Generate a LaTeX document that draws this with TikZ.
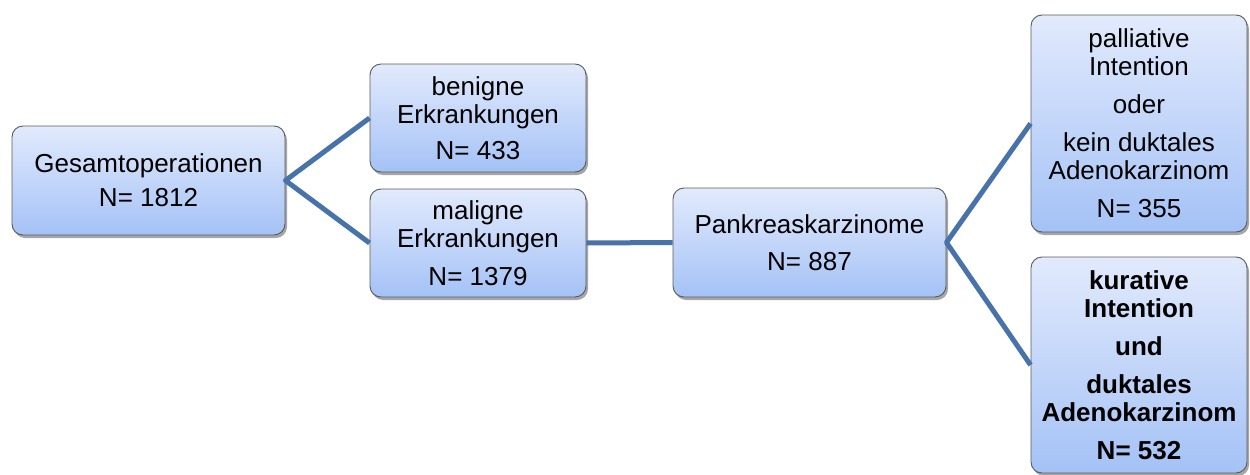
\documentclass[tikz,border=0pt]{standalone}
\usepackage{fontspec}
\setmainfont{Liberation Sans}
\usetikzlibrary{shadows}
\definecolor{linkblue}{RGB}{72,114,170}
\definecolor{boxtop}{RGB}{226,234,252}
\definecolor{boxbot}{RGB}{164,194,246}
\definecolor{boxedge}{RGB}{90,90,90}
\tikzset{
  box/.style={draw=boxedge, line width=0.9pt, rounded corners=11pt,
    top color=boxtop, bottom color=boxbot, inner sep=0pt, align=center,
    font=\fontsize{26}{28}\selectfont,
    drop shadow={shadow xshift=2pt, shadow yshift=-3pt, opacity=0.35, fill=black}},
  link/.style={draw=linkblue, line width=5pt, line join=round}
}
\begin{document}
\begin{tikzpicture}[x=1pt,y=-1pt]
\useasboundingbox (0,0) rectangle (1250,474);
\node[box, minimum width=273pt, minimum height=109pt] (g) at (148.5,180.5) {Gesamtoperationen\\[6pt]N= 1812};
\node[box, minimum width=216pt, minimum height=108pt] (b) at (478,118) {benigne\\Erkrankungen\\[8pt]N= 433};
\node[box, minimum width=216pt, minimum height=108pt] (m) at (478,243) {maligne\\Erkrankungen\\[10pt]N= 1379};
\node[box, minimum width=273pt, minimum height=109pt] (p) at (809.5,242.5) {Pankreaskarzinome\\[9pt]N= 887};
\node[box, minimum width=216pt, minimum height=217pt] (pa) at (1139,123.5) {palliative\\Intention\\[10pt]oder\\[10pt]kein duktales\\Adenokarzinom\\[10pt]N= 355};
\node[box, minimum width=216pt, minimum height=216pt, font=\fontsize{26}{28}\selectfont\bfseries] (k) at (1139,365) {kurative\\Intention\\[10pt]und\\[10pt]duktales\\Adenokarzinom\\[10pt]N= 532};
\draw[link] (b.west) -- (g.east) -- (m.west);
\draw[link] (m.east) -- (p.west);
\draw[link] (pa.west) -- (p.east) -- (k.west);
\end{tikzpicture}
\end{document}
